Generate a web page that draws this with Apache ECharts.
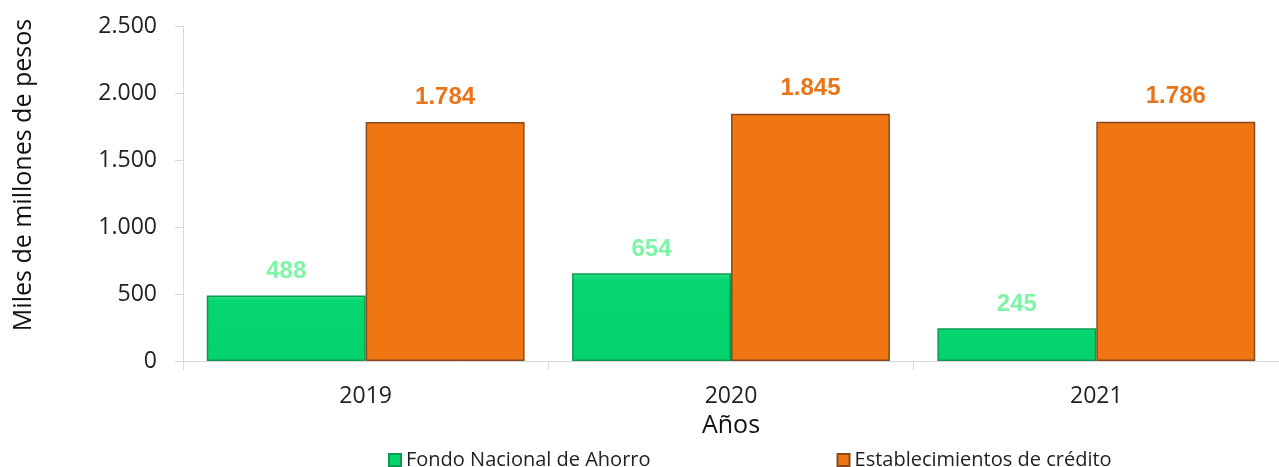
<!DOCTYPE html>
<html>
<head>
<meta charset="utf-8">
<script src="https://cdn.jsdelivr.net/npm/echarts@6/dist/echarts.min.js"></script>
<style>
html,body{margin:0;padding:0;background:#fff;}
#chart{width:1279px;height:467px;}
</style>
</head>
<body>
<div id="chart"></div>
<script>
var years = ['2019', '2020', '2021'];
var fondoNacional = [488, 654, 245];
var establecimientos = [1784, 1845, 1786];
var yTicks = [0, 500, 1000, 1500, 2000, 2500];

/*separador de miles con punto*/
function fmt(v) {
    return String(v).replace(/\B(?=(\d{3})+(?!\d))/g, '.');
}

var chart = echarts.init(document.getElementById('chart'));
chart.setOption({
    animation: false,
    textStyle: {fontFamily: '"Open Sans", "Noto Sans", sans-serif'},
    grid: {left: 183, right: 0, top: 26, bottom: 106},
    // titulo del eje Y (un poco mas arriba que el centro)
    graphic: [{
        type: 'text',
        x: 24,
        y: 175,
        rotation: Math.PI / 2,
        style: {
            text: 'Miles de millones de pesos',
            fontSize: 25,
            fill: '#111',
            fontFamily: '"Open Sans", sans-serif',
            align: 'center',
            verticalAlign: 'middle'
        }
    }],
    legend: {
        bottom: -8,
        left: 383,
        itemWidth: 12,
        itemHeight: 12,
        itemGap: 186,
        icon: 'rect',
        textStyle: {fontSize: 20, color: '#222', fontFamily: '"Open Sans", sans-serif'},
        data: ['Fondo Nacional de Ahorro', 'Establecimientos de crédito']
    },
    xAxis: {
        type: 'category',
        data: years,
        name: 'Años',
        nameLocation: 'middle',
        nameGap: 52,
        nameTextStyle: {fontSize: 25, color: '#111'},
        axisLine: {lineStyle: {color: '#d9d9d9'}},
        axisTick: {show: true, length: 9, lineStyle: {color: '#d9d9d9'}},
        axisLabel: {fontSize: 23, color: '#222', margin: 24}
    },
    yAxis: {
        type: 'value',
        min: yTicks[0],
        max: yTicks[yTicks.length - 1],
        interval: 500,
        splitLine: {show: false},
        axisLine: {show: true, lineStyle: {color: '#d9d9d9'}},
        axisTick: {show: true, length: 8, lineStyle: {color: '#d9d9d9'}},
        axisLabel: {fontSize: 23, color: '#222', margin: 26, formatter: fmt}
    },
    series: [
        {
            name: 'Fondo Nacional de Ahorro',
            type: 'bar',
            data: fondoNacional,
            barGap: '0%',
            barCategoryGap: '13%',
            itemStyle: {
                color: new echarts.graphic.LinearGradient(0, 0, 0, 1, [
                    {offset: 0, color: '#2fe38a'},
                    {offset: 0.08, color: '#06d66f'},
                    {offset: 1, color: '#04d26c'}
                ]),
                borderColor: '#0a9a52',
                borderWidth: 1.5
            },
            label: {
                show: true,
                position: 'top',
                distance: 12,
                fontSize: 24,
                fontWeight: 'bold',
                color: '#7ef5a6',
                fontFamily: 'Arial, "Liberation Sans", sans-serif',
                formatter: function (p) { return fmt(p.value); }
            }
        },
        {
            name: 'Establecimientos de crédito',
            type: 'bar',
            data: establecimientos,
            itemStyle: {
                color: '#f07613',
                borderColor: '#8a4a1c',
                borderWidth: 1.5
            },
            label: {
                show: true,
                position: 'top',
                distance: 13,
                fontSize: 24,
                fontWeight: 'bold',
                color: '#ea7419',
                fontFamily: 'Arial, "Liberation Sans", sans-serif',
                formatter: function (p) { return fmt(p.value); }
            }
        }
    ]
});
</script>
</body>
</html>
